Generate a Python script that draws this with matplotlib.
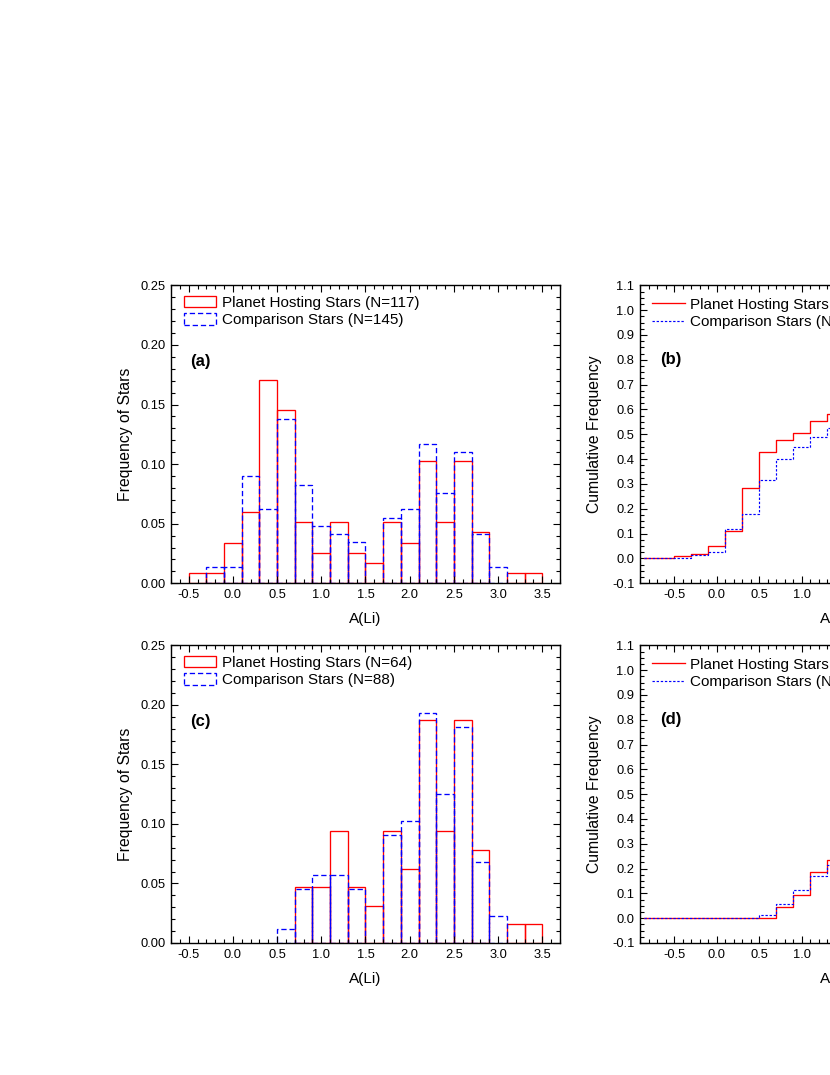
import numpy as np
import matplotlib.pyplot as plt
from matplotlib.patches import Patch
from matplotlib.ticker import MultipleLocator, FormatStrFormatter

plt.rcParams['font.family'] = ['Liberation Sans', 'DejaVu Sans']
plt.rcParams['axes.unicode_minus'] = False

# A(Li) bins, width 0.2, from -0.5 to 3.5
bin_edges = np.round(np.arange(-0.5, 3.51, 0.2), 1)
bin_width = 0.2

# number of stars per bin, whole sample
ph_counts_all = [1, 1, 4, 7, 20, 17, 6, 3, 6, 3, 2, 6, 4, 12, 6, 12, 5, 0, 1, 1]
cs_counts_all = [0, 2, 2, 13, 9, 20, 12, 7, 6, 5, 0, 8, 9, 17, 11, 16, 6, 2, 0, 0]
n_ph_all, n_cs_all = 117, 145

# number of stars per bin, subsample
ph_counts_sub = [0, 0, 0, 0, 0, 0, 3, 3, 6, 3, 2, 6, 4, 12, 6, 12, 5, 0, 1, 1]
cs_counts_sub = [0, 0, 0, 0, 0, 1, 4, 5, 5, 4, 0, 8, 9, 17, 11, 16, 6, 2, 0, 0]
n_ph_sub, n_cs_sub = 64, 88

cum_start = -0.85

RED = '#ff0000'
BLUE = '#0000ff'
DASH = (0, (4.0, 2.2))
DOT = (0, (2.0, 1.5))


def style(ax):
    ax.tick_params(which='both', direction='in', top=True, right=True,
                   labelsize=9.3, width=0.8)
    ax.tick_params(which='major', length=4.8, pad=4)
    ax.tick_params(which='minor', length=2.6)
    for s in ax.spines.values():
        s.set_linewidth(1.0)
    ax.xaxis.set_major_locator(MultipleLocator(0.5))
    ax.xaxis.set_minor_locator(MultipleLocator(0.1))
    ax.xaxis.set_major_formatter(FormatStrFormatter('%.1f'))
    ax.set_xlabel('A(Li)', fontsize=11, va='center')
    ax.xaxis.set_label_coords(0.5, -0.12)


def hist_panel(ax, ph, cs, n_ph, n_cs, tag):
    left = bin_edges[:-1]
    ph = np.array(ph)
    cs = np.array(cs)
    # empty bins draw nothing
    ax.bar(left[ph > 0], ph[ph > 0] / n_ph, width=bin_width, align='edge',
           fill=False, edgecolor=RED, lw=0.95)
    ax.bar(left[cs > 0], cs[cs > 0] / n_cs, width=bin_width, align='edge',
           fill=False, edgecolor=BLUE, lw=0.95, linestyle=DASH)
    ax.set_xlim(-0.7, 3.7)
    ax.set_ylim(0, 0.25)
    style(ax)
    ax.yaxis.set_major_locator(MultipleLocator(0.05))
    ax.yaxis.set_minor_locator(MultipleLocator(0.01))
    ax.yaxis.set_major_formatter(FormatStrFormatter('%.2f'))
    ax.set_ylabel('Frequency of Stars', fontsize=11.3, va='center')
    ax.yaxis.set_label_coords(-0.118, 0.5)
    handles = [Patch(facecolor='none', edgecolor=RED, lw=0.95),
               Patch(facecolor='none', edgecolor=BLUE, lw=0.95, linestyle=DASH)]
    labels = ['Planet Hosting Stars (N=%d)' % n_ph,
              'Comparison Stars (N=%d)' % n_cs]
    ax.legend(handles, labels, loc='upper left', bbox_to_anchor=(0.033, 0.965),
              frameon=False, fontsize=11, handlelength=2.1, handleheight=0.8,
              handletextpad=0.4, labelspacing=0.2, borderpad=0, borderaxespad=0)
    ax.text(0.076, 0.745, tag, transform=ax.transAxes, fontsize=12,
            fontweight='bold', ha='center', va='center')


def cum_panel(ax, ph, cs, n_ph, n_cs, tag):
    x = np.concatenate([[cum_start], bin_edges])
    ph_cum = np.cumsum(ph) / n_ph
    cs_cum = np.cumsum(cs) / n_cs
    y_ph = np.concatenate([[0], ph_cum, ph_cum[-1:]])
    y_cs = np.concatenate([[0], cs_cum, cs_cum[-1:]])
    ax.plot(x, y_ph, drawstyle='steps-post', color=RED, lw=0.95,
            label='Planet Hosting Stars (N=%d)' % n_ph)
    ax.plot(x, y_cs, drawstyle='steps-post', color=BLUE, lw=0.85,
            linestyle=DOT, label='Comparison Stars (N=%d)' % n_cs)
    ax.set_xlim(-0.9, 3.7)
    ax.set_ylim(-0.1, 1.1)
    style(ax)
    ax.yaxis.set_major_locator(MultipleLocator(0.1))
    ax.yaxis.set_minor_locator(MultipleLocator(0.025))
    ax.yaxis.set_major_formatter(FormatStrFormatter('%.1f'))
    ax.set_ylabel('Cumulative Frequency', fontsize=11.3, va='center')
    ax.yaxis.set_label_coords(-0.115, 0.5)
    ax.legend(loc='upper left', bbox_to_anchor=(0.03, 0.958),
              frameon=False, fontsize=11, handlelength=2.2,
              handletextpad=0.3, labelspacing=0.2, borderpad=0, borderaxespad=0)
    ax.text(0.078, 0.75, tag, transform=ax.transAxes, fontsize=12,
            fontweight='bold', ha='center', va='center')


fig = plt.figure(figsize=(8.3, 10.75), dpi=100)
ax_a = fig.add_axes([0.2060, 0.4574, 0.4687, 0.2772])
ax_b = fig.add_axes([0.7711, 0.4574, 0.4723, 0.2772])
ax_c = fig.add_axes([0.2060, 0.1228, 0.4687, 0.2769])
ax_d = fig.add_axes([0.7711, 0.1228, 0.4723, 0.2769])

hist_panel(ax_a, ph_counts_all, cs_counts_all, n_ph_all, n_cs_all, '(a)')
cum_panel(ax_b, ph_counts_all, cs_counts_all, n_ph_all, n_cs_all, '(b)')
hist_panel(ax_c, ph_counts_sub, cs_counts_sub, n_ph_sub, n_cs_sub, '(c)')
cum_panel(ax_d, ph_counts_sub, cs_counts_sub, n_ph_sub, n_cs_sub, '(d)')

fig.savefig('out.png', dpi=100)
